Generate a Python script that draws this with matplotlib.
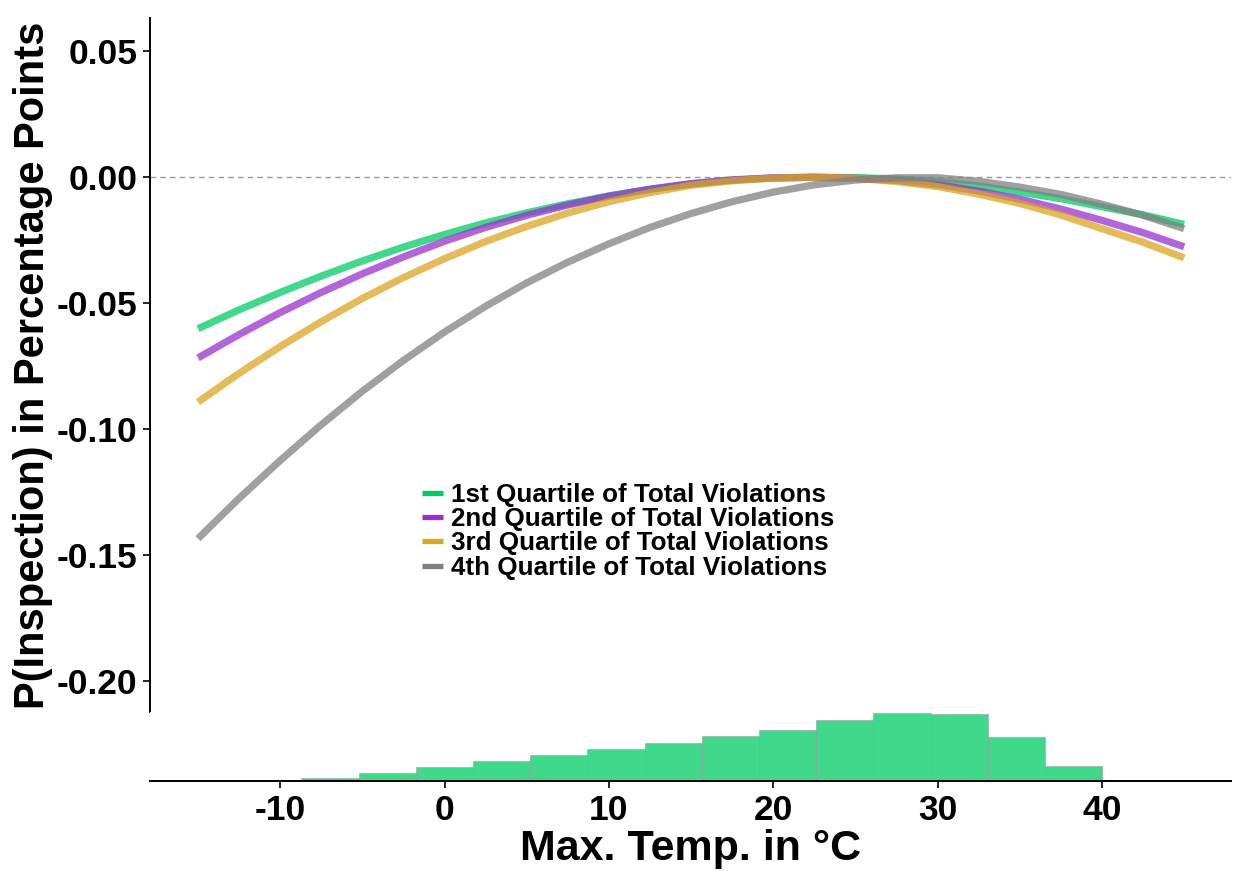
import matplotlib
matplotlib.use("Agg")
import matplotlib.pyplot as plt
from matplotlib.lines import Line2D
import numpy as np

# ── Marginal effect of max. temperature on P(inspection), by violation quartile ──
TEMPS = [-15, -12.5, -10, -7.5, -5, -2.5, 0, 2.5, 5, 7.5, 10, 12.5, 15, 17.5,
         20, 22.5, 25, 27.5, 30, 32.5, 35, 37.5, 40, 42.5, 45]

Q1_EFFECT = [-0.0602, -0.0527, -0.0458, -0.0393, -0.0333, -0.0278, -0.0228,
             -0.0182, -0.0142, -0.0106, -0.0075, -0.0049, -0.0028, -0.0013,
             -0.0004, -0.0001, -0.0002, -0.0008, -0.0018, -0.0036, -0.0060,
             -0.0086, -0.0118, -0.0150, -0.0188]
Q2_EFFECT = [-0.0718, -0.0625, -0.0538, -0.0458, -0.0384, -0.0317, -0.0255,
             -0.0200, -0.0152, -0.0111, -0.0076, -0.0048, -0.0026, -0.0011,
             -0.0003, -0.0001, -0.0005, -0.0014, -0.0030, -0.0056, -0.0088,
             -0.0127, -0.0172, -0.0221, -0.0277]
Q3_EFFECT = [-0.0893, -0.0779, -0.0673, -0.0574, -0.0482, -0.0399, -0.0324,
             -0.0256, -0.0196, -0.0143, -0.0098, -0.0062, -0.0033, -0.0015,
             -0.0004, -0.0001, -0.0005, -0.0018, -0.0038, -0.0068, -0.0105,
             -0.0151, -0.0205, -0.0259, -0.0321]
Q4_EFFECT = [-0.1435, -0.1275, -0.1125, -0.0983, -0.0850, -0.0728, -0.0615,
             -0.0513, -0.0420, -0.0338, -0.0265, -0.0200, -0.0145, -0.0098,
             -0.0060, -0.0031, -0.0012, -0.0003, -0.0003, -0.0017, -0.0040,
             -0.0069, -0.0108, -0.0152, -0.0205]

SERIES = [Q1_EFFECT, Q2_EFFECT, Q3_EFFECT, Q4_EFFECT]
LABELS = ["1st Quartile of Total Violations",
          "2nd Quartile of Total Violations",
          "3rd Quartile of Total Violations",
          "4th Quartile of Total Violations"]
COLORS = ["#00CC64", "#9932CC", "#DAA520", "#808080"]

# Distribution of max. temperature (share of observations, %)
HIST_START = -15.67
HIST_WIDTH = 3.48
HIST_SHARE = [0.08, 0.28, 0.69, 1.56, 2.91, 4.04, 5.20, 6.41, 7.68, 9.04,
              10.39, 12.41, 13.83, 13.48, 8.83, 2.97, 0.20]

Y_TICKS = [0.05, 0.00, -0.05, -0.10, -0.15, -0.20]
X_TICKS = [-10, 0, 10, 20, 30, 40]

plt.rcParams["font.family"] = ["Liberation Sans", "DejaVu Sans"]
plt.rcParams["font.weight"] = "bold"
plt.rcParams["axes.unicode_minus"] = False

W, H = 1233, 871
fig = plt.figure(figsize=(W / 100, H / 100), dpi=100)


def box(left, top, right, bottom):
    """Pixel box -> figure fraction rect."""
    return [left / W, 1 - bottom / H, (right - left) / W, (bottom - top) / H]


X_LIM = (-17.92, 47.85)

# ── Main panel: effect curves ──
ax = fig.add_axes(box(150, 18, 1231, 712))
ax.axhline(0, color="#9a9a9a", lw=1.0, ls=(0, (4, 3)), zorder=1)
for vals, color in zip(SERIES, COLORS):
    ax.plot(TEMPS, vals, color=color, alpha=0.75, lw=5.2,
            solid_capstyle="butt", solid_joinstyle="round", zorder=3)

ax.set_xlim(*X_LIM)
ax.set_ylim(-0.2123, 0.0631)
ax.set_yticks(Y_TICKS)
ax.set_yticklabels([f"{v:.2f}" for v in Y_TICKS])
ax.set_xticks([])
for side in ["top", "right", "bottom"]:
    ax.spines[side].set_visible(False)
ax.spines["left"].set_linewidth(1.4)
ax.tick_params(axis="y", labelsize=25.5, length=5, width=1.2, pad=4)
ax.set_ylabel("P(Inspection) in Percentage Points", fontsize=30,
              fontweight="bold", labelpad=3)

handles = [Line2D([], [], color=c, lw=3.8, solid_capstyle="butt") for c in COLORS]
ax.legend(handles, LABELS, loc="upper left", bbox_to_anchor=(0.2516, 0.330),
          frameon=False, fontsize=18.7, handlelength=0.8, handletextpad=0.3,
          labelspacing=0.01, borderpad=0, borderaxespad=0)

# ── Bottom panel: temperature histogram ──
hx = fig.add_axes(box(150, 712, 1231, 781))
edges = HIST_START + HIST_WIDTH * np.arange(len(HIST_SHARE))
hx.bar(edges, HIST_SHARE, width=HIST_WIDTH, align="edge", color="#00CC64",
       alpha=0.75, edgecolor="#9a9a9a", linewidth=0.5)
hx.set_xlim(*X_LIM)
hx.set_ylim(0, max(HIST_SHARE) * 69 / 68.4)
hx.set_yticks([])
hx.set_xticks(X_TICKS)
hx.set_xticklabels([str(t) for t in X_TICKS])
for side in ["top", "right", "left"]:
    hx.spines[side].set_visible(False)
hx.spines["bottom"].set_linewidth(1.4)
hx.tick_params(axis="x", labelsize=25.5, length=5, width=1.2, pad=4)
hx.set_xlabel("Max. Temp. in °C", fontsize=31, fontweight="bold", labelpad=2)

fig.savefig("out.png", dpi=100)
